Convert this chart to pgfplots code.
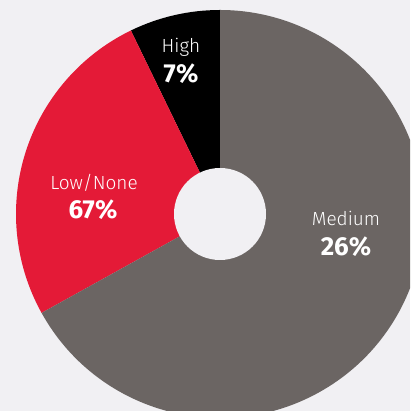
\documentclass[border=0pt]{standalone}
\usepackage{pgfplots}
\pgfplotsset{compat=1.18}
\usepackage{fontspec}
\setmainfont{Fira Sans}
\newfontfamily\lightfont{Fira Sans Light}
\definecolor{bg}{RGB}{241,240,243}
\definecolor{cgray}{RGB}{107,101,99}
\definecolor{cred}{RGB}{228,26,55}
\definecolor{cblack}{RGB}{0,0,0}
\begin{document}
\begin{tikzpicture}
\begin{axis}[
  width=410pt, height=411pt, scale only axis,
  xmin=0, xmax=410, ymin=0, ymax=411,
  hide axis, clip=true,
]
\coordinate (bl) at (rel axis cs:0,0);
\coordinate (tr) at (rel axis cs:1,1);
\fill[bg] (rel axis cs:0,0) rectangle (rel axis cs:1,1);
\def\cx{220}\def\cy{197}
\def\ro{204pt}\def\ri{46pt}
% slices clockwise from the top: High, Low/None, Medium
\fill[cblack] (axis cs:\cx,\cy) -- ++(90:\ro) arc[start angle=90, end angle=115.9, radius=\ro] -- cycle;
\fill[cred] (axis cs:\cx,\cy) -- ++(115.9:\ro) arc[start angle=115.9, end angle=209, radius=\ro] -- cycle;
\fill[cgray] (axis cs:\cx,\cy) -- ++(209:\ro) arc[start angle=209, end angle=450, radius=\ro] -- cycle;
\fill[bg] (axis cs:\cx,\cy) circle[radius=\ri];
\node[text=white, font=\lightfont\fontsize{19}{21}\selectfont] at (axis cs:181,364) {High};
\node[text=white, font=\fontsize{26}{28}\selectfont\bfseries] at (axis cs:181,337) {7\%};
\node[text=white, font=\lightfont\fontsize{19}{21}\selectfont] at (axis cs:94,228) {Low/None};
\node[text=white, font=\fontsize{26}{28}\selectfont\bfseries] at (axis cs:93,201) {67\%};
\node[text=white, font=\lightfont\fontsize{19}{21}\selectfont] at (axis cs:346,193) {Medium};
\node[text=white, font=\fontsize{26}{28}\selectfont\bfseries] at (axis cs:346,164) {26\%};
\end{axis}
\pgfresetboundingbox
\path[use as bounding box] (bl) rectangle (tr);
\end{tikzpicture}
\end{document}
